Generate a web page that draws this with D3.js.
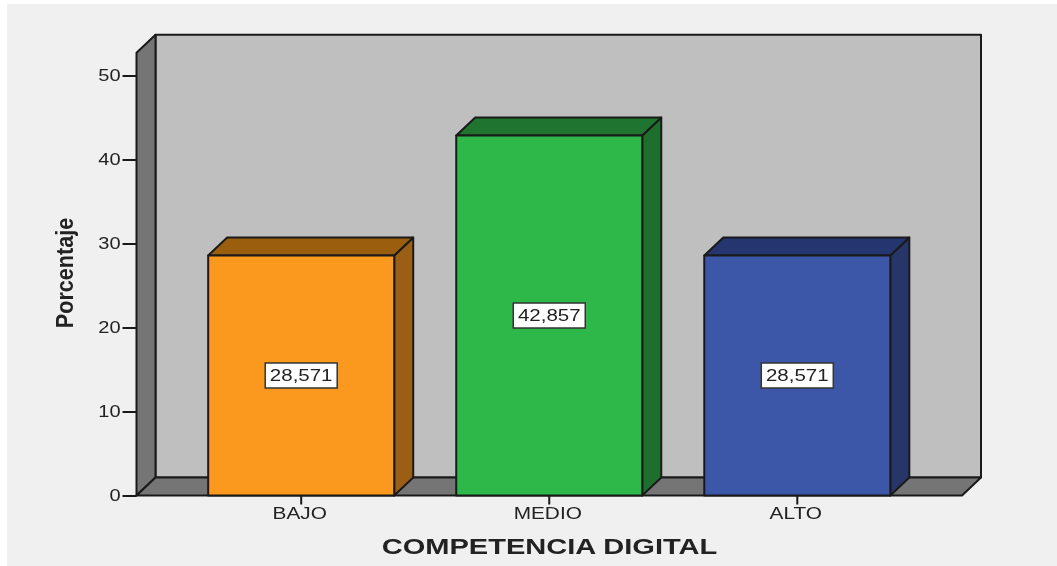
<!DOCTYPE html>
<html>
<head>
<meta charset="utf-8">
<script src="https://cdn.jsdelivr.net/npm/d3@7/dist/d3.min.js"></script>
<style>
html, body { margin: 0; padding: 0; background: #fff; }
svg { display: block; filter: blur(0.45px); }
text { font-family: "Liberation Sans", Arial, sans-serif; fill: #222; }
</style>
</head>
<body>
<div id="chart"></div>
<script>
const categories = ['BAJO', 'MEDIO', 'ALTO'];
const values = [28.571, 42.857, 28.571];
const valueLabels = ['28,571', '42,857', '28,571'];
const yTicks = [0, 10, 20, 30, 40, 50];
const frontColors = ['#fb991f', '#2fb84a', '#3d57a8'];
const sideColors = ['#9a5e14', '#1e6e2d', '#263668'];
const topColors = ['#9a5e0e', '#1f7530', '#25356f'];

const width = 1057, height = 566;
const dx = 19, dy = -18; // profundidad 3D

const svg = d3.select('#chart').append('svg')
    .attr('width', width)
    .attr('height', height);

svg.append('rect')
    .attr('x', 7).attr('y', 4)
    .attr('width', width - 7).attr('height', height - 4)
    .attr('fill', '#f0f0f0');

const y = d3.scaleLinear().domain([0, 50]).range([495.5, 75.5]);
const x = d3.scaleBand().domain(categories)
    .range([136.5, 962])
    .paddingInner(0.25)
    .paddingOuter(0.289);

const yTop = y(52.7);
const stroke = '#1a1a1a';

function poly(points, fill, sw) {
    svg.append('path')
        .attr('d', d3.line()(points) + 'Z')
        .attr('fill', fill)
        .attr('stroke', stroke)
        .attr('stroke-width', sw || 2)
        .attr('stroke-linejoin', 'round');
}

// el original esta estirado en horizontal
function stretch(sel, k) {
    sel.each(function() {
        d3.select(this)
            .attr('textLength', this.getComputedTextLength() * k)
            .attr('lengthAdjust', 'spacingAndGlyphs');
    });
}

const x0 = x.range()[0], x1 = x.range()[1];

// pared del fondo, lateral y suelo
poly([[x0 + dx, yTop + dy], [x1 + dx, yTop + dy], [x1 + dx, y(0) + dy], [x0 + dx, y(0) + dy]], '#bfbfbf');
poly([[x0, yTop], [x0 + dx, yTop + dy], [x0 + dx, y(0) + dy], [x0, y(0)]], '#757575');
poly([[x0, y(0)], [x0 + dx, y(0) + dy], [x1 + dx, y(0) + dy], [x1, y(0)]], '#757575');

// barras
categories.forEach((c, i) => {
    const left = x(c), right = left + x.bandwidth(), top = y(values[i]), base = y(0);
    poly([[right, top], [right + dx, top + dy], [right + dx, base + dy], [right, base]], sideColors[i]);
    poly([[left, top], [left + dx, top + dy], [right + dx, top + dy], [right, top]], topColors[i]);
    poly([[left, top], [right, top], [right, base], [left, base]], frontColors[i]);
});

// ejes
const yAxis = svg.append('g')
    .attr('transform', `translate(${x0},0)`)
    .call(d3.axisLeft(y).tickValues(yTicks).tickFormat(d3.format('d')).tickSize(14).tickPadding(2));
yAxis.select('.domain').remove();
yAxis.selectAll('line').attr('stroke', stroke).attr('stroke-width', 2);
yAxis.selectAll('text').attr('font-size', 16).attr('fill', '#222').style('font-family', '"Liberation Sans", Arial, sans-serif').call(stretch, 1.25);

const xAxis = svg.append('g')
    .attr('transform', `translate(0,${y(0)})`)
    .call(d3.axisBottom(x).tickSize(9).tickPadding(3));
xAxis.select('.domain').remove();
xAxis.selectAll('line').attr('stroke', stroke).attr('stroke-width', 2);
xAxis.selectAll('text').attr('font-size', 16).attr('fill', '#222').attr('dx', -1.5).style('font-family', '"Liberation Sans", Arial, sans-serif').call(stretch, 1.3);

// etiquetas de valor
categories.forEach((c, i) => {
    const cx = x(c) + x.bandwidth() / 2, cy = y(values[i] / 2);
    svg.append('rect')
        .attr('x', cx - 36).attr('y', cy - 12.5)
        .attr('width', 72).attr('height', 25)
        .attr('fill', '#fff').attr('stroke', '#333').attr('stroke-width', 1.5);
    svg.append('text')
        .attr('x', cx).attr('y', cy + 5.5)
        .attr('text-anchor', 'middle')
        .attr('font-size', 16)
        .text(valueLabels[i])
        .call(stretch, 1.28);
});

// titulos
svg.append('text')
    .attr('x', 549.5).attr('y', 554)
    .attr('text-anchor', 'middle')
    .attr('font-size', 22).attr('font-weight', 'bold')
    .text('COMPETENCIA DIGITAL')
    .call(stretch, 1.32);

svg.append('text')
    .attr('transform', 'translate(73,273) rotate(-90)')
    .attr('text-anchor', 'middle')
    .attr('font-size', 24).attr('font-weight', 'bold')
    .text('Porcentaje')
    .call(stretch, 0.9);
</script>
</body>
</html>
